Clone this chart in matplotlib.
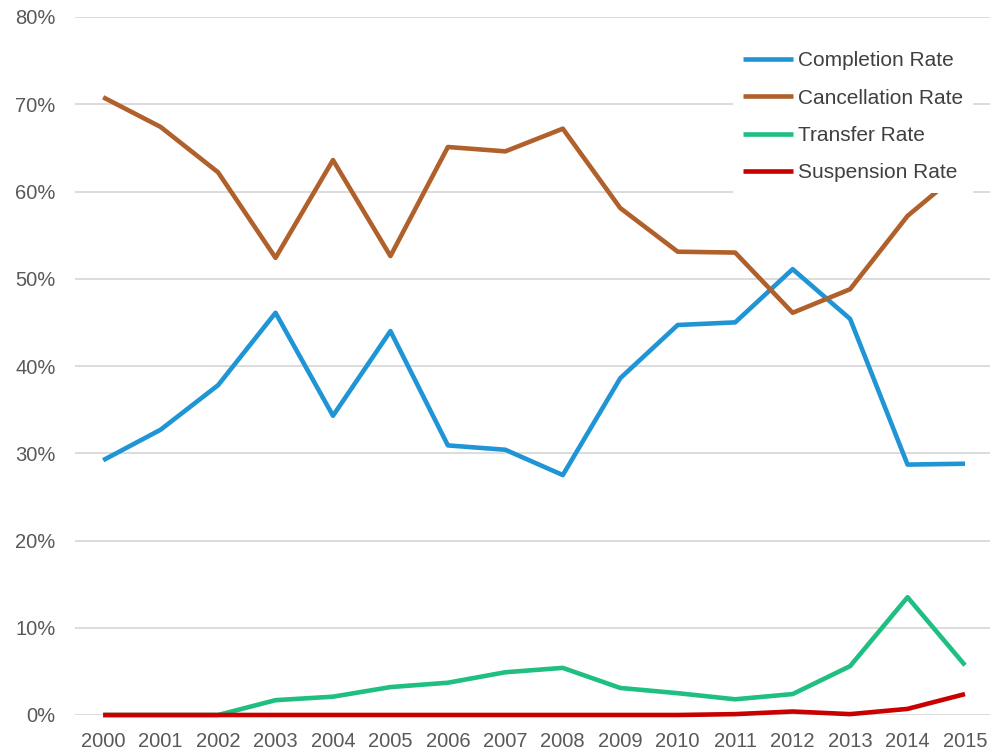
import numpy as np
import matplotlib.pyplot as plt
from matplotlib.ticker import FuncFormatter

plt.rcParams['font.family'] = ['Liberation Sans', 'DejaVu Sans']

# yearly rates in percent
years = np.arange(2000, 2016)
completion = [29.2, 32.7, 37.8, 46.1, 34.3, 44.0, 30.9, 30.4, 27.5, 38.6, 44.7, 45.0, 51.1, 45.4, 28.7, 28.8]
cancellation = [70.8, 67.4, 62.2, 52.4, 63.6, 52.6, 65.1, 64.6, 67.2, 58.1, 53.1, 53.0, 46.1, 48.8, 57.2, 62.7]
transfer = [0.0, 0.0, 0.0, 1.7, 2.1, 3.2, 3.7, 4.9, 5.4, 3.1, 2.5, 1.8, 2.4, 5.6, 13.5, 5.7]
suspension = [0.0, 0.0, 0.0, 0.0, 0.0, 0.0, 0.0, 0.0, 0.0, 0.0, 0.0, 0.1, 0.4, 0.1, 0.7, 2.4]

series = [
    ("Completion Rate", completion, "#1f95d5"),
    ("Cancellation Rate", cancellation, "#b0602a"),
    ("Transfer Rate", transfer, "#1fbf82"),
    ("Suspension Rate", suspension, "#c80000"),
]

fig = plt.figure(figsize=(9.9, 7.52), dpi=100)
ax = fig.add_axes([75 / 990, 37 / 752, 915 / 990, 698 / 752])

# lines sitting on 0% must not be cut in half by the axes edge
for name, vals, col in series:
    ax.plot(years, vals, color=col, lw=3.3, label=name, solid_capstyle='butt',
            zorder=3, clip_on=False)

ax.set_xlim(1999.51, 2015.435)
ax.set_ylim(0, 80)
ax.set_yticks(np.arange(0, 81, 10))
ax.set_xticks(years)
ax.yaxis.set_major_formatter(FuncFormatter(lambda v, p: f"{v:.0f}%"))
ax.grid(axis='y', color='#d9d9d9', lw=1.3, zorder=0)
ax.set_axisbelow(True)
for s in ax.spines.values():
    s.set_visible(False)
ax.tick_params(axis='both', length=0, labelsize=14.5, labelcolor='#595959')
ax.tick_params(axis='y', pad=14)
ax.tick_params(axis='x', pad=12)

leg = ax.legend(loc='upper left', bbox_to_anchor=(733 / 990, 1 - 41 / 752),
                bbox_transform=fig.transFigure, borderaxespad=0, fontsize=15,
                frameon=True, facecolor='white', edgecolor='none', framealpha=1,
                fancybox=False, handlelength=2.4, handletextpad=0.2,
                labelspacing=0.88, borderpad=0.5)
for t in leg.get_texts():
    t.set_color('#404040')
leg.set_zorder(5)

fig.savefig("out.png", dpi=100)
